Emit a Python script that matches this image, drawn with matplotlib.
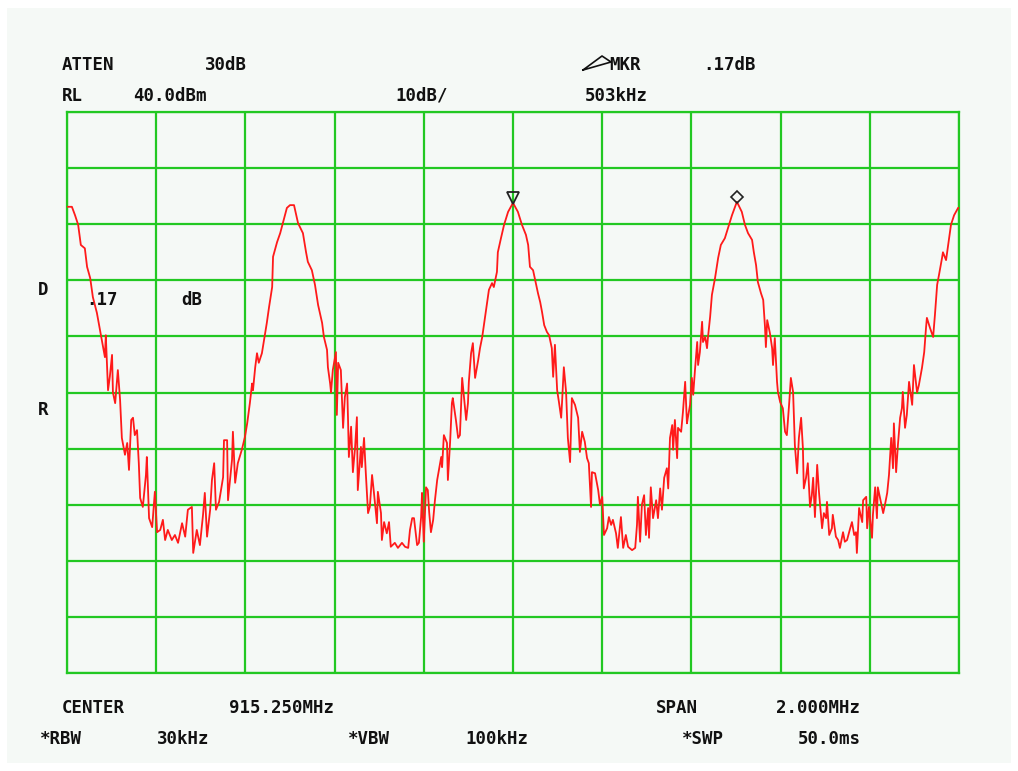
import matplotlib
matplotlib.use("Agg")
import matplotlib.pyplot as plt
import matplotlib.transforms as mtransforms
from matplotlib.patches import Rectangle
from matplotlib.lines import Line2D
import numpy as np

# sweep settings
center_mhz = 915.250
span_mhz = 2.000
ref_level = 40.0
db_per_div = 10.0

# trace: frequency from start of sweep (kHz) and level (dBm)
freq_khz = [
    0, 11, 18, 25, 31, 40, 45, 52, 58, 67, 74, 81, 85, 87, 92, 96, 101, 103, 108, 114,
    119, 123, 130, 135, 139, 144, 148, 152, 157, 161, 164, 170, 177, 179, 184, 191, 197, 202, 209, 215,
    220, 226, 235, 242, 249, 258, 265, 271, 280, 283, 291, 298, 305, 309, 314, 321, 325, 330, 334, 341,
    350, 352, 359, 361, 370, 372, 377, 383, 392, 399, 404, 410, 415, 417, 422, 426, 430, 437, 442, 448,
    453, 460, 462, 471, 478, 484, 493, 500, 509, 518, 529, 536, 540, 549, 556, 563, 572, 576, 583, 585,
    590, 592, 596, 603, 605, 608, 614, 619, 623, 628, 630, 632, 637, 641, 646, 650, 652, 659, 661, 666,
    670, 675, 679, 684, 688, 695, 697, 704, 706, 711, 717, 722, 726, 735, 742, 751, 758, 765, 769, 774,
    778, 785, 789, 794, 796, 800, 805, 809, 812, 816, 821, 825, 830, 834, 839, 841, 845, 852, 854, 859,
    863, 865, 872, 877, 881, 886, 890, 895, 899, 901, 906, 910, 915, 922, 926, 931, 937, 942, 946, 953,
    957, 964, 966, 973, 980, 989, 1000, 1011, 1020, 1029, 1034, 1038, 1045, 1052, 1056, 1061, 1065, 1070, 1076, 1081,
    1087, 1090, 1094, 1099, 1103, 1108, 1110, 1114, 1119, 1123, 1128, 1132, 1139, 1146, 1150, 1155, 1161, 1166, 1170, 1175,
    1177, 1184, 1191, 1195, 1200, 1204, 1211, 1215, 1220, 1224, 1231, 1235, 1242, 1247, 1253, 1258, 1267, 1274, 1278, 1280,
    1285, 1289, 1294, 1298, 1303, 1305, 1309, 1314, 1321, 1325, 1330, 1334, 1339, 1345, 1348, 1352, 1357, 1359, 1363, 1368,
    1370, 1377, 1381, 1386, 1390, 1392, 1397, 1401, 1404, 1408, 1413, 1415, 1419, 1424, 1426, 1431, 1435, 1437, 1442, 1446,
    1453, 1460, 1466, 1475, 1482, 1491, 1502, 1513, 1520, 1527, 1536, 1540, 1545, 1549, 1556, 1561, 1565, 1567, 1570, 1576,
    1581, 1583, 1587, 1592, 1594, 1599, 1605, 1610, 1614, 1619, 1623, 1628, 1632, 1637, 1641, 1646, 1650, 1652, 1657, 1661,
    1666, 1670, 1673, 1677, 1682, 1686, 1693, 1697, 1702, 1704, 1709, 1715, 1717, 1724, 1729, 1733, 1740, 1744, 1749, 1756,
    1760, 1765, 1769, 1771, 1776, 1783, 1785, 1792, 1794, 1798, 1805, 1807, 1812, 1816, 1818, 1823, 1830, 1834, 1839, 1843,
    1848, 1852, 1854, 1859, 1863, 1868, 1872, 1874, 1879, 1883, 1888, 1895, 1899, 1906, 1910, 1917, 1922, 1926, 1928, 1935,
    1942, 1946, 1951, 1955, 1962, 1964, 1971, 1975, 1982, 1989, 1998, 2000,
]
level_dbm = [
    23.1, 23.1, 21.6, 19.9, 16.3, 15.7, 12.4, 10.4, 7.0, 4.2, 1.1, -1.9, -3.7, 0.2, -9.6, -7.2, -3.3, -10.0, -11.9, -6.0,
    -11.3, -18.1, -21.1, -19.0, -23.8, -14.9, -14.5, -17.6, -16.7, -22.6, -28.8, -30.4, -24.7, -21.5, -32.4, -34.0, -27.7, -34.9, -34.5, -32.7,
    -36.3, -34.5, -36.3, -35.4, -36.8, -33.3, -35.7, -30.9, -30.4, -38.6, -34.5, -37.2, -31.8, -27.9, -35.7, -30.9, -25.6, -22.6, -30.9, -29.5,
    -25.1, -18.5, -18.5, -29.2, -22.0, -17.0, -26.1, -22.6, -20.2, -17.9, -15.5, -11.9, -8.4, -9.6, -5.5, -3.0, -4.7, -3.0, -0.6, 2.4,
    5.2, 8.8, 14.2, 16.8, 18.4, 20.2, 22.9, 23.4, 23.4, 20.2, 18.4, 15.0, 13.3, 11.8, 9.2, 5.6, 2.4, -0.1, -2.4, -5.5,
    -8.4, -10.0, -6.0, -2.8, -14.0, -4.7, -6.0, -16.3, -10.8, -8.4, -14.4, -21.5, -16.1, -24.2, -19.7, -14.4, -27.4, -19.7, -23.3, -18.1,
    -24.4, -31.5, -30.4, -24.7, -27.7, -33.3, -27.7, -31.5, -36.3, -33.1, -35.1, -33.1, -37.5, -36.8, -37.7, -36.8, -37.5, -37.7, -34.5, -32.4,
    -32.4, -37.2, -36.8, -32.2, -27.9, -36.6, -26.9, -27.4, -31.3, -34.9, -32.7, -29.2, -25.6, -23.8, -21.5, -23.3, -17.6, -19.0, -25.6, -18.8,
    -11.9, -11.0, -14.9, -18.1, -17.6, -7.4, -10.8, -14.9, -11.9, -8.1, -3.0, -1.2, -7.4, -4.2, -2.1, -0.1, 3.3, 6.0, 8.3, 9.5,
    8.8, 11.5, 15.0, 17.5, 19.9, 22.2, 23.8, 22.2, 19.9, 18.1, 16.3, 12.4, 11.8, 9.2, 7.7, 6.1, 4.4, 2.0, 0.8, 0.2,
    -2.1, -7.2, -1.5, -9.6, -11.7, -14.5, -11.7, -5.5, -9.9, -18.1, -22.4, -11.0, -12.2, -14.5, -20.6, -17.0, -18.8, -21.7, -22.6, -30.4,
    -24.2, -24.4, -27.4, -30.0, -28.6, -35.4, -34.2, -32.2, -33.6, -32.7, -35.1, -37.7, -32.2, -37.7, -35.4, -37.5, -38.1, -37.7, -33.6, -28.6,
    -36.6, -30.0, -28.3, -35.4, -30.6, -35.9, -26.9, -32.4, -29.2, -32.4, -27.1, -30.9, -25.2, -23.5, -27.1, -18.1, -15.8, -20.2, -14.9, -21.7,
    -16.3, -17.0, -13.5, -8.1, -15.5, -14.5, -12.2, -7.4, -10.4, -6.0, -1.0, -5.1, -2.8, 2.6, -1.0, -0.1, -2.1, -0.3, 3.5, 7.4,
    10.4, 14.0, 16.3, 17.5, 19.3, 21.6, 24.0, 22.2, 19.9, 18.4, 17.2, 15.0, 12.7, 9.7, 7.7, 6.5, 1.7, -1.9, 2.9, 0.6,
    -2.1, -5.1, -0.3, -8.1, -9.9, -11.7, -12.8, -17.0, -17.6, -12.2, -7.4, -9.9, -19.4, -24.4, -18.1, -14.5, -19.9, -27.1, -25.2, -22.6,
    -30.4, -28.3, -25.2, -32.2, -22.9, -27.7, -34.2, -31.5, -32.4, -29.5, -35.4, -34.2, -31.8, -35.7, -36.3, -37.7, -34.9, -36.6, -36.3, -34.2,
    -33.1, -35.4, -34.9, -38.6, -30.6, -33.1, -29.2, -28.6, -34.2, -30.4, -35.9, -31.8, -26.9, -32.4, -26.9, -28.8, -31.5, -30.0, -27.9, -24.7,
    -18.1, -23.5, -15.5, -24.2, -19.4, -14.5, -12.8, -9.9, -16.3, -14.0, -8.1, -12.2, -5.1, -10.0, -8.7, -5.6, -2.8, 1.5, 3.3, 1.5,
    -0.1, 3.8, 9.2, 10.9, 14.0, 15.0, 13.6, 15.9, 19.9, 21.6, 22.9, 22.9,
]

# marker positions (kHz from start): reference peak and delta peak
mkr_ref_khz = 1000
mkr_delta_khz = 1502

header_rows = [
    [("ATTEN", 62), ("30dB", 205), ("MKR", 609), (".17dB", 703)],
    [("RL", 62), ("40.0dBm", 133), ("10dB/", 395), ("503kHz", 585)],
]
footer_rows = [
    [("CENTER", 62), ("915.250MHz", 229), ("SPAN", 656), ("2.000MHz", 776)],
    [("*RBW", 40), ("30kHz", 157), ("*VBW", 348), ("100kHz", 465), ("*SWP", 682), ("50.0ms", 798)],
]

W, H = 1018, 771
fig = plt.figure(figsize=(W / 100, H / 100), dpi=100, facecolor="white")


def fpos(x, y):
    return x / W, 1 - y / H


panel = "#f5f9f6"
fig.add_artist(Rectangle(fpos(7, 763), 1004 / W, 755 / H, transform=fig.transFigure,
                         facecolor=panel, edgecolor="none", zorder=0))

ax = fig.add_axes([67 / W, (H - 673) / H, 892 / W, 561 / H])
ax.set_facecolor(panel)

f0 = center_mhz - span_mhz / 2
freqs = f0 + np.array(freq_khz) / 1000.0
levels = np.array(level_dbm)

ax.plot(freqs, levels, color="#ff1a1a", lw=1.3, zorder=3)

bottom = ref_level - 10 * db_per_div
ax.set_xlim(f0, f0 + span_mhz)
ax.set_ylim(bottom, ref_level)
ax.set_xticks(np.linspace(f0, f0 + span_mhz, 11))
ax.set_yticks(np.arange(bottom, ref_level + 1, db_per_div))
ax.tick_params(length=0, labelbottom=False, labelleft=False)
ax.grid(True, color="#22c822", lw=1.6)
for s in ax.spines.values():
    s.set_color("#22c822")
    s.set_linewidth(1.6)

# marker symbols sit just above the peaks
lift = mtransforms.offset_copy(ax.transData, fig=fig, x=0, y=5, units="dots")
i_ref = freq_khz.index(mkr_ref_khz)
i_del = freq_khz.index(mkr_delta_khz)
ax.plot(freqs[i_ref], levels[i_ref], marker="v", ms=9, mfc="none", mec="#222222",
        mew=1.3, transform=lift, zorder=4, clip_on=False)
ax.plot(freqs[i_del], levels[i_del], marker="D", ms=6, mfc="none", mec="#222222",
        mew=1.2, transform=lift, zorder=4, clip_on=False)

font = dict(family="DejaVu Sans Mono", weight="bold", size=12.5, color="#111111", va="center")
for row, y in zip(header_rows, [65, 96]):
    for txt, x in row:
        fig.text(*fpos(x, y), txt, **font)
for row, y in zip(footer_rows, [708, 739]):
    for txt, x in row:
        fig.text(*fpos(x, y), txt, **font)

fig.text(*fpos(38, 290), "D", **font)
fig.text(*fpos(38, 410), "R", **font)
fig.text(*fpos(86, 300), ".17", **font)
fig.text(*fpos(181, 300), "dB", **font)

# delta symbol in front of MKR
tri = Line2D([583 / W, 602 / W, 611 / W, 583 / W],
             [1 - 70 / H, 1 - 56 / H, 1 - 62 / H, 1 - 70 / H],
             transform=fig.transFigure, color="#111111", lw=1.2)
fig.add_artist(tri)

fig.savefig("out.png", dpi=100, facecolor="white")
